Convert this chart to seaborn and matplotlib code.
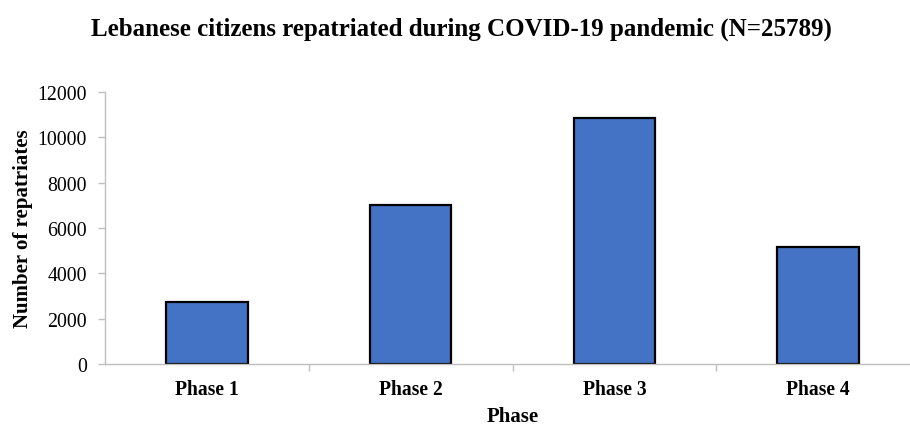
import matplotlib
matplotlib.use("Agg")
import matplotlib.pyplot as plt
import seaborn as sns
import pandas as pd
from matplotlib.ticker import FixedLocator

phases = ["Phase 1", "Phase 2", "Phase 3", "Phase 4"]
repatriates = [2750, 7000, 10870, 5169]
y_ticks = [0, 2000, 4000, 6000, 8000, 10000, 12000]

sns.set_theme(style="white")
plt.rcParams["font.family"] = ["Liberation Serif", "DejaVu Serif"]
plt.rcParams["text.color"] = "black"
plt.rcParams["axes.labelcolor"] = "black"
plt.rcParams["xtick.color"] = "black"
plt.rcParams["ytick.color"] = "black"

df = pd.DataFrame({"Phase": phases, "Number of repatriates": repatriates})

W, H = 910, 427
fig = plt.figure(figsize=(W / 100, H / 100), dpi=100)
ax = fig.add_axes([105 / W, (H - 365) / H, 815 / W, (365 - 93) / H])

sns.barplot(data=df, x="Phase", y="Number of repatriates", ax=ax,
            color="#4472C4", saturation=1, width=0.4,
            edgecolor="black", linewidth=1.6)

ax.set_xlim(-0.5, 3.5)
ax.set_ylim(0, 12000)
ax.set_yticks(y_ticks)
ax.set_yticklabels([str(v) for v in y_ticks], fontsize=14.3, color="black")
ax.set_xticks(range(len(phases)))
ax.set_xticklabels(phases, fontsize=14.1, fontweight="bold", color="black")
ax.xaxis.set_minor_locator(FixedLocator([0.5, 1.5, 2.5]))
ax.tick_params(axis="x", which="major", length=0, pad=11)
ax.tick_params(axis="x", which="minor", length=5, color="#bfbfbf", width=1, direction="out", bottom=True)
ax.tick_params(axis="y", length=5, color="#bfbfbf", width=1, direction="out", left=True, pad=8)

for s in ["top", "right"]:
    ax.spines[s].set_visible(False)
for s in ["left", "bottom"]:
    ax.spines[s].set_color("#bfbfbf")
    ax.spines[s].set_linewidth(1)

ax.set_xlabel("Phase", fontsize=15, fontweight="bold", labelpad=5, color="black")
ax.set_ylabel("Number of repatriates", fontsize=15, fontweight="bold", labelpad=3, color="black")

fig.suptitle("Lebanese citizens repatriated during COVID-19 pandemic (N=25789)",
             x=461 / W, y=1 - 18 / H, fontsize=18, fontweight="bold", va="top", color="black")

fig.savefig("out.png", dpi=100)
